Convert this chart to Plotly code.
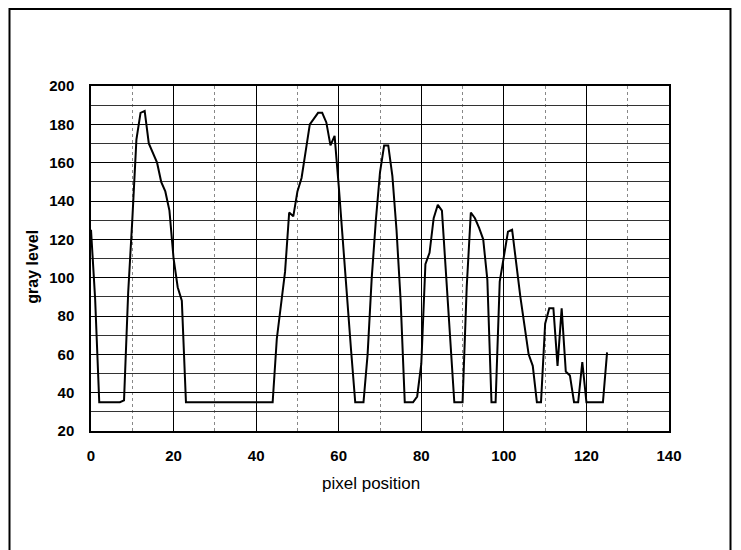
import plotly.graph_objects as go

# pixel positions 0..125
pixel_pos = list(range(0, 126))
gray_level = [
    125, 89, 35, 35, 35, 35, 35, 35, 36, 92,          # 0-9
    130, 172, 186, 187, 170, 165, 160, 150, 145, 135,  # 10-19
    110, 95, 88, 35, 35, 35, 35, 35, 35, 35,           # 20-29
    35, 35, 35, 35, 35, 35, 35, 35, 35, 35,            # 30-39
    35, 35, 35, 35, 35, 68, 85, 103, 134, 132,         # 40-49
    145, 152, 166, 180, 183, 186, 186, 181, 169, 174,  # 50-59
    148, 118, 92, 62, 35, 35, 35, 60, 100, 130,        # 60-69
    155, 169, 169, 153, 125, 88, 35, 35, 35, 38,       # 70-79
    55, 107, 113, 131, 138, 135, 100, 65, 35, 35,      # 80-89
    35, 95, 134, 131, 126, 120, 99, 35, 35, 98,        # 90-99
    110, 124, 125, 106, 90, 75, 60, 54, 35, 35,        # 100-109
    76, 84, 84, 54, 84, 51, 49, 35, 35, 56,            # 110-119
    35, 35, 35, 35, 35, 61,                            # 120-125
]

x_ticks = [0, 20, 40, 60, 80, 100, 120, 140]
y_ticks = [20, 40, 60, 80, 100, 120, 140, 160, 180, 200]

W, H = 741, 550
L, R, T, B = 91, 669, 86, 431

def px(xp):
    return (xp - L) / (R - L)

def py(yp):
    return (B - yp) / (B - T)

FAM = "Liberation Sans, Arial, sans-serif"
tick_font = dict(family=FAM, size=15, color="black", weight="bold")

fig = go.Figure()
fig.add_trace(go.Scatter(
    x=pixel_pos, y=gray_level, mode="lines",
    line=dict(color="black", width=2), showlegend=False, hoverinfo="skip",
))

fig.update_layout(
    width=W, height=H,
    margin=dict(l=L, r=W - R, t=T, b=H - B),
    paper_bgcolor="white", plot_bgcolor="white",
    showlegend=False,
    xaxis=dict(
        range=[0, 140], tickvals=x_ticks, ticktext=[str(v) for v in x_ticks],
        showgrid=True, gridcolor="black", gridwidth=1,
        minor=dict(dtick=10, tick0=0, showgrid=True, gridcolor="#888888", griddash="dot", gridwidth=1),
        showline=True, linecolor="black", linewidth=1.5, mirror=True,
        ticks="", tickfont=tick_font, ticklabelstandoff=10, zeroline=False,
    ),
    yaxis=dict(
        range=[20, 200], tickvals=y_ticks, ticktext=[str(v) for v in y_ticks],
        showgrid=True, gridcolor="black", gridwidth=1,
        minor=dict(dtick=10, tick0=0, showgrid=True, gridcolor="#333333", gridwidth=1),
        showline=True, linecolor="black", linewidth=1.5, mirror=True,
        ticks="", tickfont=tick_font, ticklabelstandoff=12, zeroline=False,
    ),
    annotations=[
        dict(text="pixel position", xref="paper", yref="paper",
             x=px(370.5), y=py(483.5), xanchor="center", yanchor="middle",
             showarrow=False,
             font=dict(family=FAM, size=17, color="black")),
        dict(text="gray level", xref="paper", yref="paper",
             x=px(33), y=py(266.7), xanchor="center", yanchor="middle",
             textangle=-90, showarrow=False,
             font=dict(family=FAM, size=16, color="black", weight="bold")),
    ],
    shapes=[
        dict(type="rect", xref="paper", yref="paper",
             x0=px(9.5), x1=px(730.5), y0=py(570), y1=py(9),
             line=dict(color="black", width=2), layer="below"),
    ],
)

fig.write_html("out.html", config={"displayModeBar": False},
               post_script="document.body.style.margin='0';")
